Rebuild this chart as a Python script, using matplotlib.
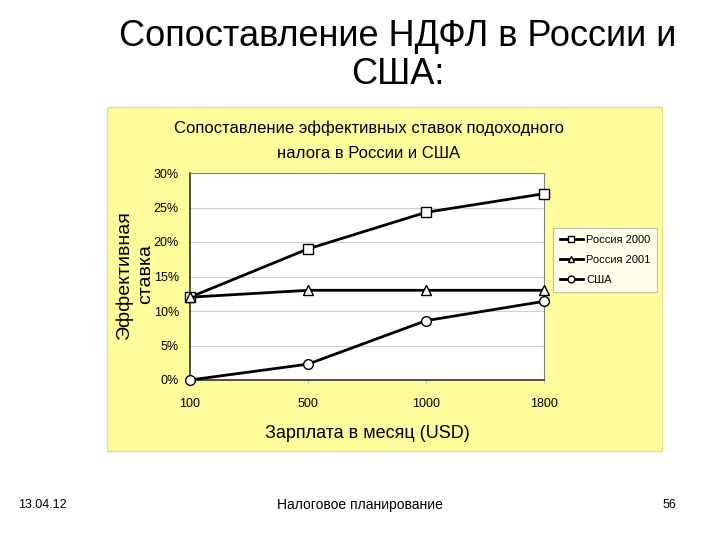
import matplotlib
matplotlib.use('Agg')
import matplotlib.pyplot as plt
from matplotlib.patches import Rectangle

plt.rcParams['font.family'] = ['Liberation Sans', 'DejaVu Sans']

salary = ['100', '500', '1000', '1800']
russia2000 = [12.0, 19.0, 24.3, 27.0]
russia2001 = [12.0, 13.0, 13.0, 13.0]
usa = [0.0, 2.3, 8.6, 11.4]
yticks = [0, 5, 10, 15, 20, 25, 30]

fig = plt.figure(figsize=(7.2, 5.4), dpi=100)
fig.patch.set_facecolor('white')

# yellow chart area
fig.patches.append(Rectangle((107/720, 1-451/540), (662-107)/720, (451-107)/540,
                             transform=fig.transFigure, facecolor='#FFFC9C',
                             edgecolor='#E6DE80', linewidth=1.0, zorder=-5))

fig.text(0.553, 0.932, 'Сопоставление НДФЛ в России и', ha='center', va='center', fontsize=26)
fig.text(0.553, 0.862, 'США:', ha='center', va='center', fontsize=26)

fig.text(0.512, 0.763, 'Сопоставление эффективных ставок подоходного', ha='center', va='center',
         fontsize=12)
fig.text(0.512, 0.715, 'налога в России и США', ha='center', va='center', fontsize=12)

ax = fig.add_axes([190/720, 1-380/540, (544-190)/720, (380-173)/540])
ax.set_zorder(2)
ax.set_facecolor('white')
x = range(len(salary))
ax.plot(x, russia2000, color='black', lw=2, marker='s', ms=7, mfc='white', mec='black', mew=1,
        label='Россия 2000', clip_on=False, zorder=3)
ax.plot(x, russia2001, color='black', lw=2, marker='^', ms=7, mfc='white', mec='black', mew=1,
        label='Россия 2001', clip_on=False, zorder=3)
ax.plot(x, usa, color='black', lw=2, marker='o', ms=7, mfc='white', mec='black', mew=1,
        label='США', clip_on=False, zorder=3)

ax.set_xlim(0, 3)
ax.set_ylim(0, 30)
ax.set_yticks(yticks)
ax.set_yticklabels([f'{v}%' for v in yticks], fontsize=9)
ax.set_xticks(list(x))
ax.set_xticklabels(salary, fontsize=9)
ax.tick_params(axis='x', length=3, pad=10, color='#C8C8C8')
ax.tick_params(axis='y', length=0, pad=8)
ax.grid(axis='y', color='#D0D0D0', lw=0.8)
ax.set_axisbelow(True)
for s in ['top', 'right']:
    ax.spines[s].set_color('#808080')
for s in ['left', 'bottom']:
    ax.spines[s].set_color('#303030')
    ax.spines[s].set_linewidth(1.2)

ax.set_xlabel('Зарплата в месяц (USD)', fontsize=13, labelpad=11)
fig.text(0.187, 0.492, 'Эффективная\nставка', rotation=90, ha='center', va='center',
         fontsize=14, linespacing=1.3)

leg = ax.legend(loc='center left', bbox_to_anchor=(1.01, 0.58), fontsize=8, frameon=True,
                fancybox=False, edgecolor='#B0B0B0', handlelength=2.1, borderpad=0.6,
                labelspacing=0.9, handletextpad=0.3, markerscale=0.7)
leg.get_frame().set_linewidth(0.8)

fig.text(0.025, 0.065, '13.04.12', ha='left', va='center', fontsize=9)
fig.text(0.5, 0.065, 'Налоговое планирование', ha='center', va='center', fontsize=10)
fig.text(0.94, 0.065, '56', ha='right', va='center', fontsize=9)

fig.savefig('out.png', dpi=100)
